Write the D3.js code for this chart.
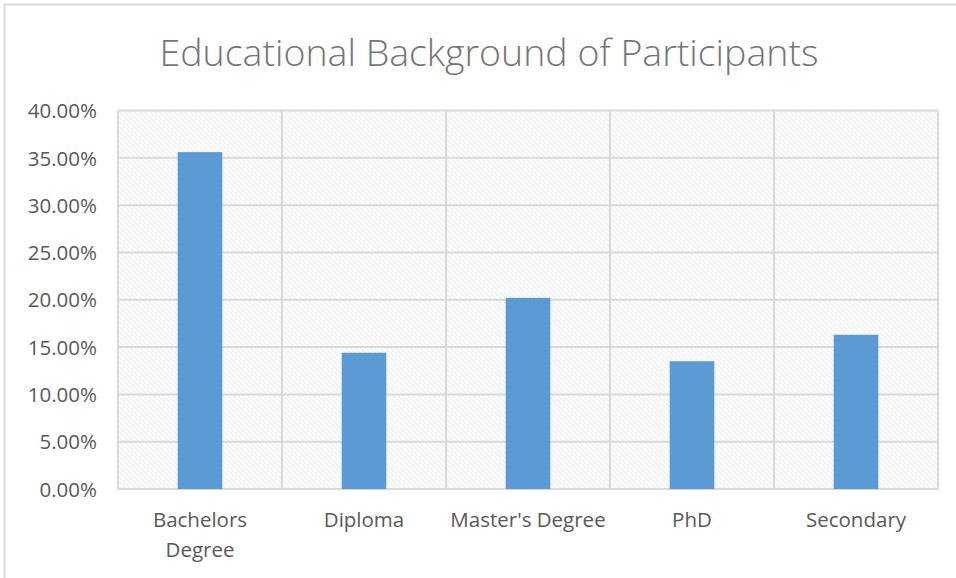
<!DOCTYPE html>
<html>
<head>
<meta charset="utf-8">
<script src="https://cdn.jsdelivr.net/npm/d3@7"></script>
<style>
  body { margin: 0; background: #fff; }
  svg { display: block; }
  .tick text { font-family: "Open Sans", sans-serif; fill: #595959; }
</style>
</head>
<body>
<svg width="956" height="578"></svg>
<script>
// data
var categories = ["Bachelors Degree", "Diploma", "Master's Degree", "PhD", "Secondary"];
var values = [0.356, 0.144, 0.202, 0.135, 0.163];
var yTicks = [0, 0.05, 0.10, 0.15, 0.20, 0.25, 0.30, 0.35, 0.40];
var title = "Educational Background of Participants";

var svg = d3.select("svg"),
    margin = {top: 110.5, right: 18, bottom: 89, left: 118},
    width = 956 - margin.left - margin.right,
    height = 578 - margin.top - margin.bottom;

var data = categories.map(function(c, i) { return {name: c, value: values[i]}; });

// chart border (runs off the right and bottom of the picture)
svg.append("rect")
    .attr("x", 4.5).attr("y", 4.5)
    .attr("width", 980).attr("height", 620)
    .attr("fill", "#fff")
    .attr("stroke", "#d9d9d9")
    .attr("stroke-width", 2);

// hatch fill for the plot area
var defs = svg.append("defs");
var pat = defs.append("pattern")
    .attr("id", "hatch")
    .attr("patternUnits", "userSpaceOnUse")
    .attr("width", 5).attr("height", 5);
pat.append("rect").attr("width", 5).attr("height", 5).attr("fill", "#fff");
pat.append("path")
    .attr("d", "M-1,-1 L6,6 M-1,4 L1,6 M4,-1 L6,1")
    .attr("stroke", "#e2e2e2")
    .attr("stroke-width", 1);

svg.append("text")
    .attr("x", 489)
    .attr("y", 66)
    .attr("text-anchor", "middle")
    .style("font-family", "'Open Sans', sans-serif")
    .style("font-weight", 300)
    .style("font-size", "37.5px")
    .style("fill", "#757575")
    .text(title);

var g = svg.append("g").attr("transform", "translate(" + margin.left + "," + margin.top + ")");

var x = d3.scaleBand().domain(categories).range([0, width]).padding(0),
    y = d3.scaleLinear().domain([0, 0.40]).range([height, 0]);

g.append("rect")
    .attr("width", width).attr("height", height)
    .attr("fill", "url(#hatch)");

// horizontal gridlines
g.selectAll(".hgrid")
  .data(yTicks)
  .enter().append("line")
    .attr("class", "hgrid")
    .attr("x1", 0).attr("x2", width)
    .attr("y1", function(d) { return y(d); })
    .attr("y2", function(d) { return y(d); })
    .attr("stroke", "#d9d9d9")
    .attr("stroke-width", 2);

// vertical gridlines at category boundaries
var bounds = categories.map(function(c) { return x(c); }).concat([width]);
g.selectAll(".vgrid")
  .data(bounds)
  .enter().append("line")
    .attr("class", "vgrid")
    .attr("x1", function(d) { return d; }).attr("x2", function(d) { return d; })
    .attr("y1", 0).attr("y2", height)
    .attr("stroke", "#d9d9d9")
    .attr("stroke-width", 2);

var barW = x.bandwidth() * 0.272;
g.selectAll(".bar")
  .data(data)
  .enter().append("rect")
    .attr("class", "bar")
    .attr("x", function(d) { return x(d.name) + x.bandwidth() / 2 - barW / 2; })
    .attr("y", function(d) { return y(d.value); })
    .attr("width", barW)
    .attr("height", function(d) { return height - y(d.value); })
    .attr("fill", "#5b9bd5");

// y axis
var yAxis = g.append("g")
    .call(d3.axisLeft(y).tickValues(yTicks).tickFormat(d3.format(".2%")).tickSize(0).tickPadding(21));
yAxis.select(".domain").remove();
yAxis.selectAll("text").style("font-size", "20.5px").attr("dy", "0.35em");

// x axis
var xAxis = g.append("g")
    .attr("transform", "translate(0," + height + ")")
    .call(d3.axisBottom(x).tickSize(0).tickPadding(0));
xAxis.select(".domain").remove();
xAxis.selectAll("text").remove();
xAxis.selectAll(".tick").each(function(d) {
  var t = d3.select(this).append("text")
      .attr("text-anchor", "middle")
      .style("font-size", "20.5px");
  var words = d === "Bachelors Degree" ? ["Bachelors", "Degree"] : [d];
  words.forEach(function(w, i) {
    t.append("tspan").attr("x", 0).attr("y", 38 + i * 30).text(w);
  });
});
</script>
</body>
</html>
